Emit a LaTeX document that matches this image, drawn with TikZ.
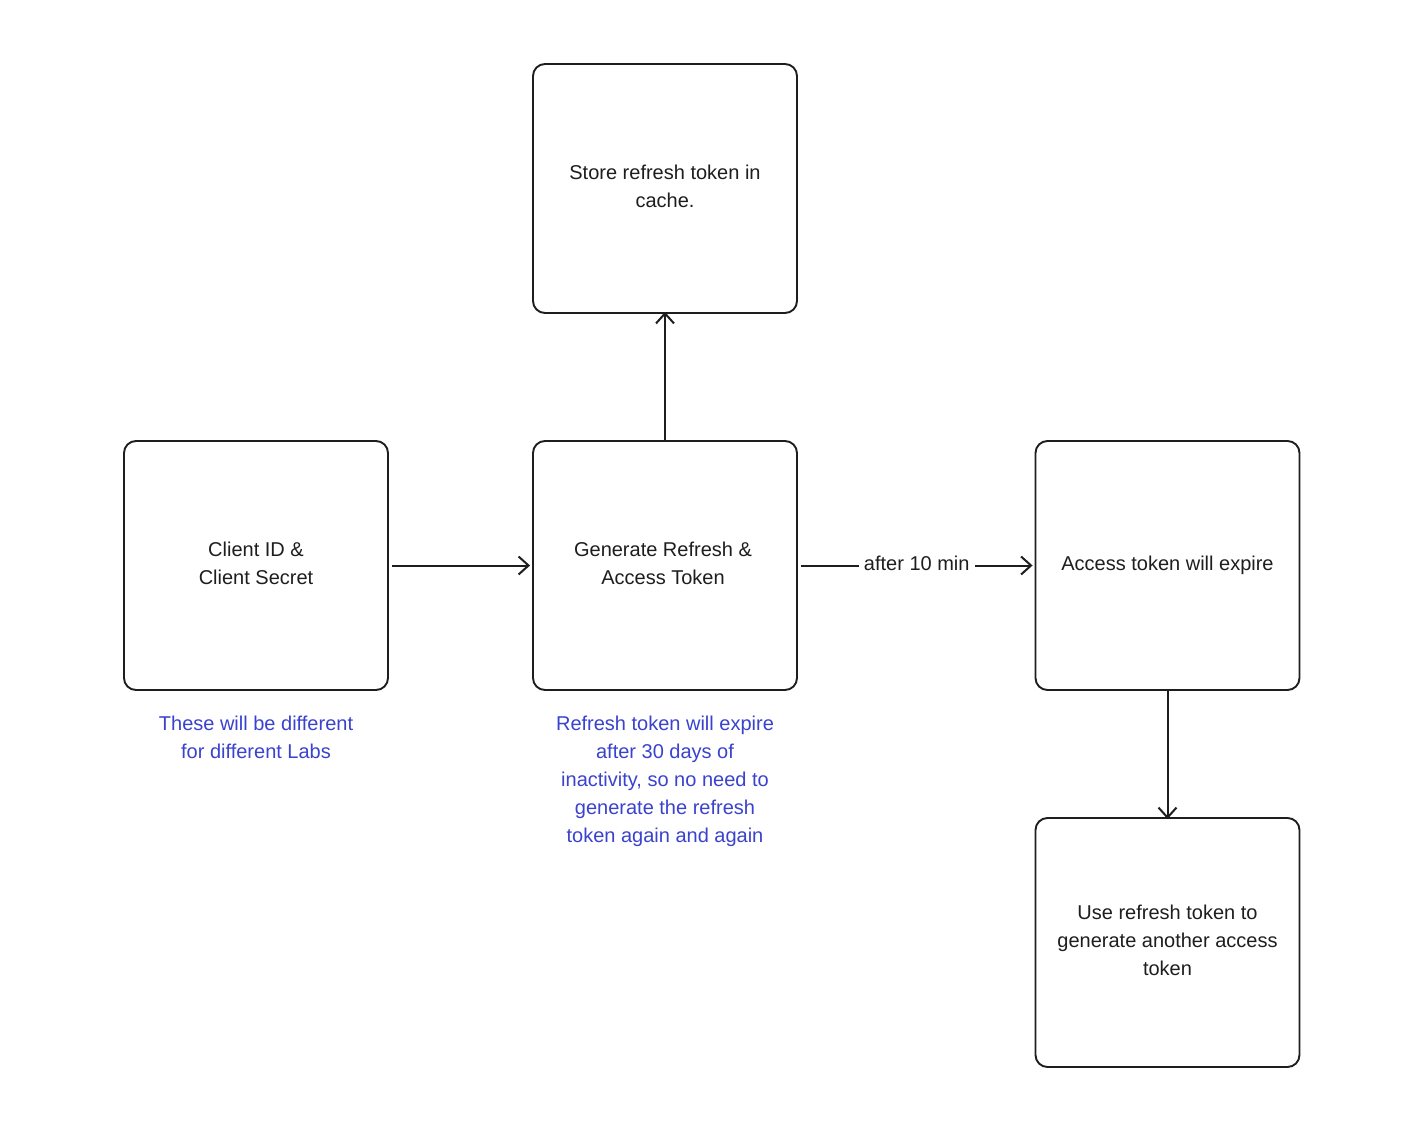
\documentclass[tikz,border=0pt]{standalone}
\usepackage{fontspec}
\setmainfont{Liberation Sans}
\usetikzlibrary{arrows.meta}
\definecolor{noteblue}{RGB}{58,66,206}
\definecolor{ink}{RGB}{30,30,30}
\begin{document}
\begin{tikzpicture}[x=1pt,y=-1pt,
  box/.style={draw=ink, line width=1.9pt, rounded corners=12pt, minimum width=264pt, minimum height=249pt, inner sep=0pt},
  txt/.style={align=center, font=\fontsize{20}{28}\selectfont, text=ink, inner sep=0pt},
  note/.style={align=center, font=\fontsize{20}{28}\selectfont, text=noteblue, inner sep=0pt},
  conn/.style={draw=ink, line width=2pt, -{Straight Barb[length=10pt,width=18pt,line width=2pt]}},
  lbl/.style={fill=white, font=\fontsize{20}{24}\selectfont, text=ink, inner sep=5pt}]
\useasboundingbox (0,0) rectangle (1409,1147);
\fill[white] (0,0) rectangle (1409,1147);

\node[box] (store) at (665,188.5) {};
\node[box] (client) at (256,565.5) {};
\node[box] (gen) at (665,565.5) {};
\node[box] (access) at (1167.5,565.5) {};
\node[box] (use) at (1167.5,942.5) {};

\node[txt] (tstore) at (665,186) {Store refresh token in\\cache.};
\node[txt] (tclient) at (256,563) {Client ID \&\\Client Secret};
\node[txt] (tgen) at (663,563) {Generate Refresh \&\\Access Token};
\node[txt] (taccess) at (1167.5,565) {Access token will expire};
\node[txt] (tuse) at (1167.5,940) {Use refresh token to\\generate another access\\token};

\node[note] (n1) at (256,737) {These will be different\\for different Labs};
\node[note] (n2) at (665,781) {Refresh token will expire\\after 30 days of\\inactivity, so no need to\\generate the refresh\\token again and again};

\draw[conn] ([xshift=3pt]client.east) -- ([xshift=-2pt]gen.west);
\draw[conn] ([yshift=-1pt]gen.north) -- ([yshift=2pt]store.south);
\draw[conn] ([xshift=3pt]gen.east) -- node[lbl, yshift=2pt] (l10) {after 10 min} ([xshift=-2pt]access.west);
\draw[conn] ([yshift=1pt]access.south) -- ([yshift=-2pt]use.north);
\end{tikzpicture}
\end{document}
